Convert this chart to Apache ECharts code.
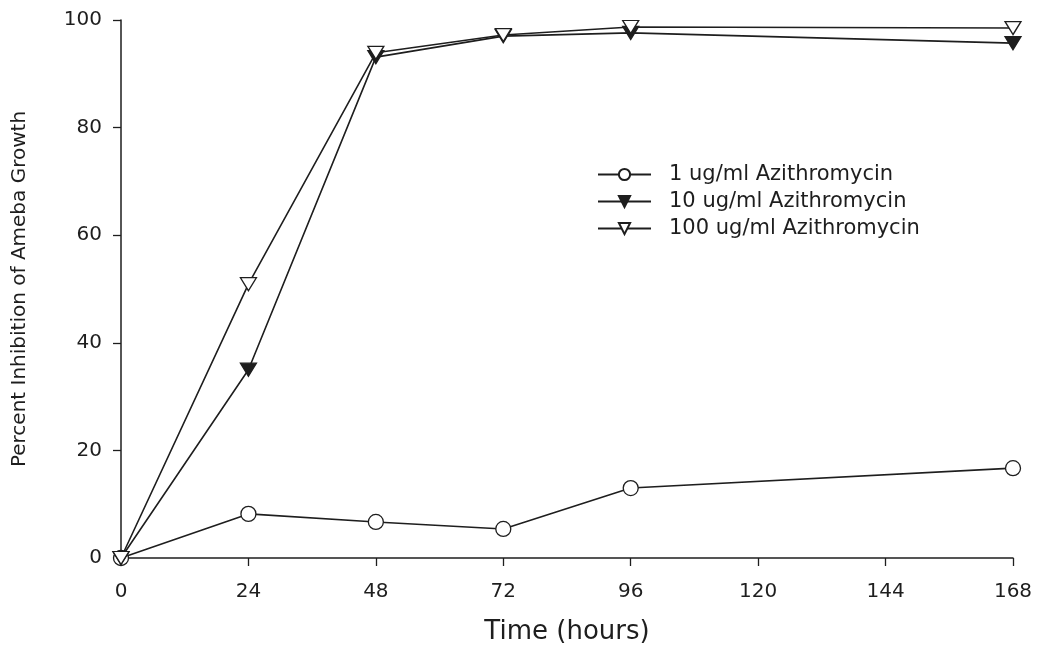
<!DOCTYPE html>
<html>
<head>
<meta charset="utf-8">
<title>Percent Inhibition of Ameba Growth</title>
<script src="https://cdn.jsdelivr.net/npm/echarts@6/dist/echarts.min.js"></script>
<style>
  html, body { margin: 0; padding: 0; background: #fff; }
  #chart { width: 1037px; height: 649px; }
</style>
</head>
<body>
<div id="chart"></div>
<script>
// Sampling times (hours)
const hours = [0, 24, 48, 72, 96, 168];
// Percent inhibition at each concentration
const conc1 = [0, 8.2, 6.7, 5.4, 13.0, 16.7];
const conc10 = [0, 35.0, 93.1, 97.0, 97.6, 95.7];
const conc100 = [0, 50.9, 93.9, 97.2, 98.7, 98.5];
const seriesNames = ['1 ug/ml Azithromycin', '10 ug/ml Azithromycin', '100 ug/ml Azithromycin'];
const xTicks = [0, 24, 48, 72, 96, 120, 144, 168];
const yTicks = [0, 20, 40, 60, 80, 100];

const pairs = vals => hours.map((h, i) => [h, vals[i]]);
const ink = '#1e1e1e';
const font = 'DejaVu Sans, Verdana, sans-serif';

const chart = echarts.init(document.getElementById('chart'), null, { renderer: 'canvas' });

const baseSeries = (name, vals, symbol, fill, rotate, size) => ({
  name: name,
  type: 'line',
  data: pairs(vals),
  symbol: symbol,
  symbolSize: size,
  symbolRotate: rotate,
  showAllSymbol: true,
  lineStyle: { color: ink, width: 1.6 },
  itemStyle: { color: fill, borderColor: ink, borderWidth: 1.3 },
  emphasis: { disabled: true },
  animation: false
});

chart.setOption({
  backgroundColor: '#fff',
  animation: false,
  grid: { left: 121, right: 24, top: 20, bottom: 91, containLabel: false, outerBoundsMode: 'none' },
  xAxis: {
    type: 'value',
    min: xTicks[0],
    max: xTicks[xTicks.length - 1],
    interval: 24,
    name: 'Time (hours)',
    nameLocation: 'middle',
    nameGap: 61,
    nameTextStyle: { fontFamily: font, fontSize: 26, color: ink },
    axisLine: { show: true, onZero: false, lineStyle: { color: ink, width: 1.5 } },
    axisTick: { show: true, length: 8, lineStyle: { color: ink, width: 1.3 } },
    axisLabel: { fontFamily: font, fontSize: 20, color: ink, margin: 24 },
    splitLine: { show: false }
  },
  yAxis: {
    type: 'value',
    min: yTicks[0],
    max: yTicks[yTicks.length - 1],
    interval: 20,
    name: 'Percent Inhibition of Ameba Growth',
    nameLocation: 'middle',
    nameGap: 91,
    nameTextStyle: { fontFamily: font, fontSize: 20, color: ink },
    axisLine: { show: true, lineStyle: { color: ink, width: 1.5 } },
    axisTick: { show: true, length: 8, lineStyle: { color: ink, width: 1.3 } },
    axisLabel: { fontFamily: font, fontSize: 20, color: ink, margin: 19 },
    splitLine: { show: false }
  },
  legend: {
    orient: 'vertical',
    left: 597,
    top: 164,
    itemWidth: 53,
    itemHeight: 14,
    itemGap: 6,
    padding: 0,
    selectedMode: false,
    data: seriesNames,
    textStyle: { fontFamily: font, fontSize: 21, color: ink, padding: [0, 0, 0, 13] }
  },
  series: [
    baseSeries(seriesNames[0], conc1, 'circle', '#fff', 0, 15),
    baseSeries(seriesNames[1], conc10, 'triangle', ink, 180, [16, 13]),
    baseSeries(seriesNames[2], conc100, 'triangle', '#fff', 180, [16, 13])
  ]
});
</script>
</body>
</html>
